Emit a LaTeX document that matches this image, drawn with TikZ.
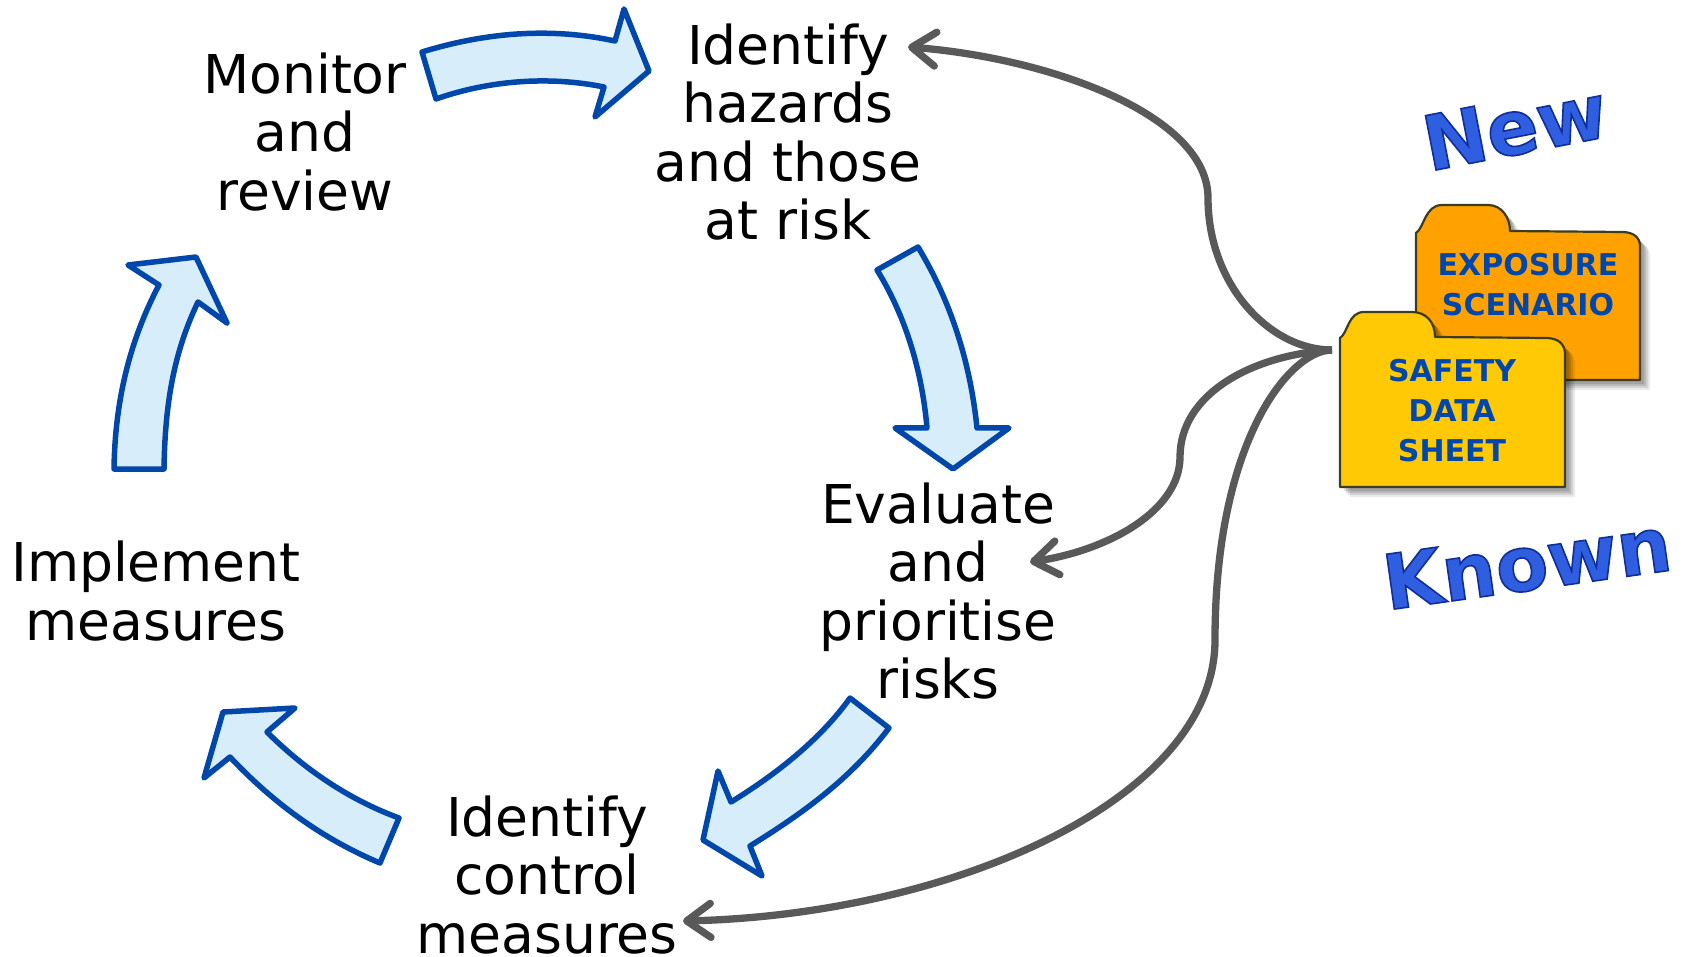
\documentclass[tikz,border=0pt]{standalone}
\usepackage{fontspec}
\setmainfont{DejaVu Sans}
\usetikzlibrary{arrows.meta}
\definecolor{bluedge}{HTML}{0047AB}
\definecolor{bluefill}{HTML}{D7EDFA}
\definecolor{greyline}{HTML}{595959}
\definecolor{orangefold}{HTML}{FFA100}
\definecolor{yellowfold}{HTML}{FFC906}
\definecolor{foldedge}{HTML}{3C3C20}
\definecolor{wordblue}{HTML}{2F5FE0}
\newcommand{\outlined}[1]{\special{pdf:code q 2 Tr 1.6 w 0.06 0.18 0.6 RG}#1\special{pdf:code Q}}
\tikzset{
  stepword/.style={font=\fontsize{53.5}{58.4}\selectfont, align=center, text=black, inner sep=0pt},
  blockarrow/.style={draw=bluedge, fill=bluefill, line width=5.5pt, line join=round},
  feedback/.style={draw=greyline, line width=7.3pt, -{Straight Barb[length=24pt,width=34pt,line width=7.3pt,round]}},
  foldertext/.style={font=\fontsize{30}{40}\bfseries\selectfont, align=center, text=bluedge, inner sep=0pt},
  folderbody/.style={draw=foldedge, line width=2.2pt, line join=round},
  wordart/.style={font=\fontsize{76}{80}\bfseries\selectfont, text=wordblue, inner sep=0pt},
}
\newcommand{\softshadow}[1]{%
  \foreach \o/\a in {4/0.12,6/0.12,8/0.10,10/0.08}{%
    \fill[black,opacity=\a,shift={(\o,\o)}] #1;}}
\begin{document}
\begin{tikzpicture}[x=1pt,y=-1pt]
\useasboundingbox (0,0) rectangle (1687,957);

% block arrows
\draw[blockarrow] (422,52) .. controls (490,31) and (555,28) .. (615,41) -- (624,9) -- (649,71) -- (595,117) -- (604,87) .. controls (550,76) and (490,80) .. (436,99) -- cycle;
\draw[blockarrow] (877,270) -- (918,247) .. controls (950,300) and (970,360) .. (977,428) -- (1009,428) -- (953,469) -- (895,428) -- (927,428) .. controls (922,370) and (905,315) .. (877,270) -- cycle;
\draw[blockarrow] (850,698) -- (889,728) .. controls (850,780) and (800,815) .. (750,846) -- (762,876) -- (703,840) -- (718,771) -- (731,802) .. controls (775,775) and (820,740) .. (850,698) -- cycle;
\draw[blockarrow] (399,818) -- (380,863) .. controls (325,840) and (275,805) .. (230,757) -- (204,778) -- (223,712) -- (295,708) -- (267,732) .. controls (305,770) and (350,800) .. (399,818) -- cycle;
\draw[blockarrow] (114,469) -- (164,469) .. controls (165,400) and (175,350) .. (198,302) -- (227,323) -- (196,257) -- (128,265) -- (159,285) .. controls (130,340) and (115,400) .. (114,469) -- cycle;

% step labels
\node[stepword] (monitor) at (305,132) {Monitor\\and\\review};
\node[stepword] (identify) at (788,132) {Identify\\hazards\\and those\\at risk};
\node[stepword] (evaluate) at (938,591) {Evaluate\\and\\prioritise\\risks};
\node[stepword] (implement) at (156,591) {Implement\\measures};
\node[stepword] (control) at (547,875) {Identify\\control\\measures};

% folders
\def\expopath{(1416,233) .. controls (1424,228) and (1425,205) .. (1442,205) -- (1488,205) .. controls (1502,205) and (1510,218) .. (1510,231) -- (1622,232) .. controls (1634,232) and (1640,238) .. (1640,246) -- (1640,380) -- (1416,380) -- cycle}
\def\safepath{(1340,338) .. controls (1348,333) and (1348,312) .. (1364,312) -- (1412,312) .. controls (1426,312) and (1435,322) .. (1435,337) -- (1546,338) .. controls (1558,338) and (1565,344) .. (1565,354) -- (1565,487) -- (1340,487) -- cycle}
\softshadow{\expopath}
\fill[orangefold] \expopath;
\draw[folderbody] \expopath;
\node[foldertext] (expo) at (1528,285) {EXPOSURE\\SCENARIO};
\softshadow{\safepath}
\fill[yellowfold] \safepath;
\draw[folderbody] \safepath;
\node[foldertext] (safe) at (1452,411) {SAFETY\\DATA\\SHEET};

% word art
\node[wordart, rotate=11] (new) at (1515,127) {\outlined{New}};
\node[wordart, rotate=8] (known) at (1527,563) {\outlined{Known}};

% feedback connectors
\coordinate (hub) at (1332,350);
\coordinate (toidentify) at (908,47);
\coordinate (toevaluate) at (1030,562);
\coordinate (tocontrol) at (683,921);
\draw[feedback] (hub) .. controls (1270,350) and (1208,285) .. (1208,198) .. controls (1208,115) and (1050,58) .. (toidentify);
\draw[feedback] (hub) .. controls (1250,355) and (1180,395) .. (1180,457) .. controls (1180,510) and (1110,550) .. (toevaluate);
\draw[feedback] (hub) .. controls (1290,350) and (1215,440) .. (1215,640) .. controls (1215,800) and (950,915) .. (tocontrol);
\end{tikzpicture}
\end{document}
